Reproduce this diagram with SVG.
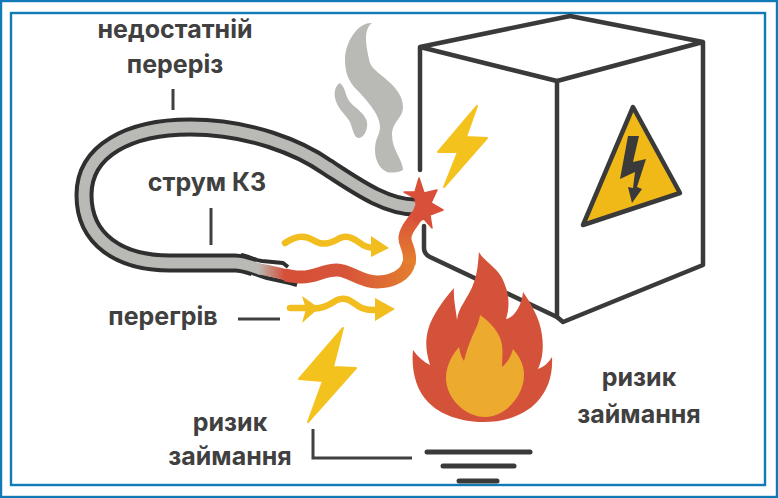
<svg xmlns="http://www.w3.org/2000/svg" width="778" height="498" viewBox="0 0 778 498">
<style>
.lbl{font-family:Inter,"Liberation Sans",sans-serif;font-weight:700;font-size:25px;fill:#404040;text-anchor:middle}
.lead{fill:none;stroke:#404040;stroke-width:3}
.box{fill:none;stroke:#3a3a3a;stroke-width:4.5;stroke-linecap:round;stroke-linejoin:round}
.bolt{fill:#f4c21c;stroke:#f4c21c;stroke-width:2;stroke-linejoin:round}
.wave{fill:none;stroke:#f2bd1e;stroke-width:6.500;stroke-linecap:round}
.head{fill:#f2bd1e}
.gnd{stroke:#3a3a3a;stroke-width:5;stroke-linecap:round}
</style>
<defs>
<linearGradient id="wireGrad" gradientUnits="userSpaceOnUse" x1="258" y1="0" x2="415" y2="0"><stop offset="0" stop-color="#b9bab5"/><stop offset="0.17" stop-color="#d64f38"/><stop offset="0.55" stop-color="#d6543a"/><stop offset="1" stop-color="#e57f2e"/></linearGradient>
<linearGradient id="wireUp" gradientUnits="userSpaceOnUse" x1="0" y1="215" x2="0" y2="262"><stop offset="0" stop-color="#d9503a"/><stop offset="1" stop-color="#e57f2e"/></linearGradient>
</defs>
<rect width="778" height="498" fill="#fff"/>
<g id="frame" fill="none" stroke="#0f7ab5" stroke-width="2.4">
<rect x="1" y="1" width="776" height="496"/>
<rect x="11" y="13" width="754" height="472"/>
</g>
<g id="enclosure">
<path class="box" d="M420 170V47L570 16L703 42V265L563 322L557 317V81L420 47M557 81L703 42"/>
<path class="box" d="M424 226V248Q424 254 430 257L557 317"/>
</g>
<g id="warning-sign">
<path d="M633 107L680 193L583 225Z" fill="#f0b917" stroke="#3a3a3a" stroke-width="4.5" stroke-linejoin="round"/>
<path d="M628 136H639L633 162L646 159L637 187L642 189L632 203L628 187L633 188L635 172L620 179Z" fill="#3a3a3a"/>
</g>
<g id="cable">
<path d="M415 207C385 207 355 185 327 167C300 148 250 127 190 127C130 127 84 150 84 195C84 240 120 263 170 263L235 263C243 263 248 265 254 267" fill="none" stroke="#2f2f2f" stroke-width="19"/>
<path d="M241 255C248 256 254 260 262 261L283 263L288 267M248 271C254 274 260 276 267 278L290 283L297 285" fill="none" stroke="#2f2f2f" stroke-width="4" stroke-linejoin="round"/>
<path d="M415 207C385 207 355 185 327 167C300 148 250 127 190 127C130 127 84 150 84 195C84 240 120 263 170 263L235 263C243 263 250 266 260 269" fill="none" stroke="#b9bab5" stroke-width="11"/>
</g>
<g id="hot-wire" fill="none" stroke-width="13">
<path d="M258 269C272 270 285 276 300 277C315 278 322 270 337 270C350 270 360 282 377 282C392 282 407 275 409 262" stroke="url(#wireGrad)" stroke-width="11"/>
<path d="M285 275C290 276 295 277 300 277C315 278 322 270 337 270C350 270 360 282 377 282C392 282 407 275 409 262" stroke="url(#wireGrad)"/>
<path d="M409 264C412 250 404 245 405 237C406 228 412 224 418 214" stroke="url(#wireUp)"/>
</g>
<g id="spark">
<polygon points="419,178 424,193 437,190 431,203 443,210 430,215 432,228 424,219 415,222 413,213 416,205 415,198 404,192 415,192" fill="#d9503a" stroke="#d9503a" stroke-width="1.500" stroke-linejoin="round"/>
</g>
<g id="smoke" fill="#b9bab5">
<path d="M372 23C362 30 367 50 370 63C374 74 403 85 403 107C403 118 392 122 392 135C392 150 403 160 403 170C398 173 390 173 387 172C378 168 375 158 375 150C375 138 380 135 380 127C380 115 368 102 360 93C350 84 345 75 345 60C345 42 358 22 372 23Z"/>
<path d="M340 83C335 86 334 92 335 98C337 108 346 115 350 122C353 130 354 137 358 138C364 138 368 130 367 122C365 113 355 108 350 102C345 96 346 88 340 83Z"/>
</g>
<g id="bolt-upper"><polygon class="bolt" points="477,106 438,152 458,152 444,187 487,138 466,137"/></g>
<g id="bolt-lower"><polygon class="bolt" points="343,328 299,379 323,381 308,422 356,368 333,367"/></g>
<g id="flame">
<path d="M479 252C484 262 500 268 505 285C510 298 509 310 506 319C514 318 522 305 523 292C530 302 540 318 542 335C544 350 542 360 538 369C544 367 549 362 552 357C553 375 548 390 537 402C525 415 505 422 483 422C462 422 440 415 428 402C416 390 411 370 413 350C418 357 424 362 430 365C426 352 425 342 428 330C432 315 445 298 454 288C453 298 456 310 457 320C458 308 468 298 473 285C478 272 478 262 479 252Z" fill="#d4523a"/>
<path d="M480 315C490 322 500 332 502 345C503 352 502 360 502 367C508 362 511 356 513 349C519 356 524 364 524 375C524 395 506 417 485 417C465 417 446 398 446 378C446 366 452 355 459 347C460 352 461 357 464 361C466 352 469 344 472 337C475 330 479 323 480 315Z" fill="#ecaa2e"/>
</g>
<g id="heat-upper">
<path class="wave" d="M285 243C295 236 305 235 313 240C322 246 330 244 340 238C348 234 355 239 360 243C365 247 370 248 375 248"/>
<polygon class="head" points="371,236 389,248 371,257"/>
</g>
<g id="heat-lower">
<path class="wave" d="M290 308H310C322 310 330 304 337 300C346 296 352 302 358 306C364 310 370 310 378 310"/>
<polygon class="head" points="302,296 319,308 302,323 306,309"/>
<polygon class="head" points="375,298 395,309 375,321"/>
</g>
<g id="ground">
<line class="gnd" x1="427" y1="452" x2="530" y2="452"/>
<line class="gnd" x1="443" y1="466" x2="514" y2="466"/>
<line class="gnd" x1="459" y1="481" x2="497" y2="481"/>
</g>
<g id="connectors">
<line class="lead" x1="173" y1="89" x2="173" y2="110"/>
<line class="lead" x1="211" y1="208" x2="211" y2="245"/>
<line class="lead" x1="238" y1="319" x2="280" y2="319"/>
<path class="lead" d="M313 429V458H412"/>
</g>
<g id="labels">
<text class="lbl" x="175" y="38">недостатній</text>
<text class="lbl" x="175" y="73">переріз</text>
<text class="lbl" x="207" y="191">струм КЗ</text>
<text class="lbl" x="163" y="325">перегрів</text>
<text class="lbl" x="230" y="431">ризик</text>
<text class="lbl" x="230" y="465">займання</text>
<text class="lbl" x="639" y="386">ризик</text>
<text class="lbl" x="639" y="423">займання</text>
</g>
</svg>
